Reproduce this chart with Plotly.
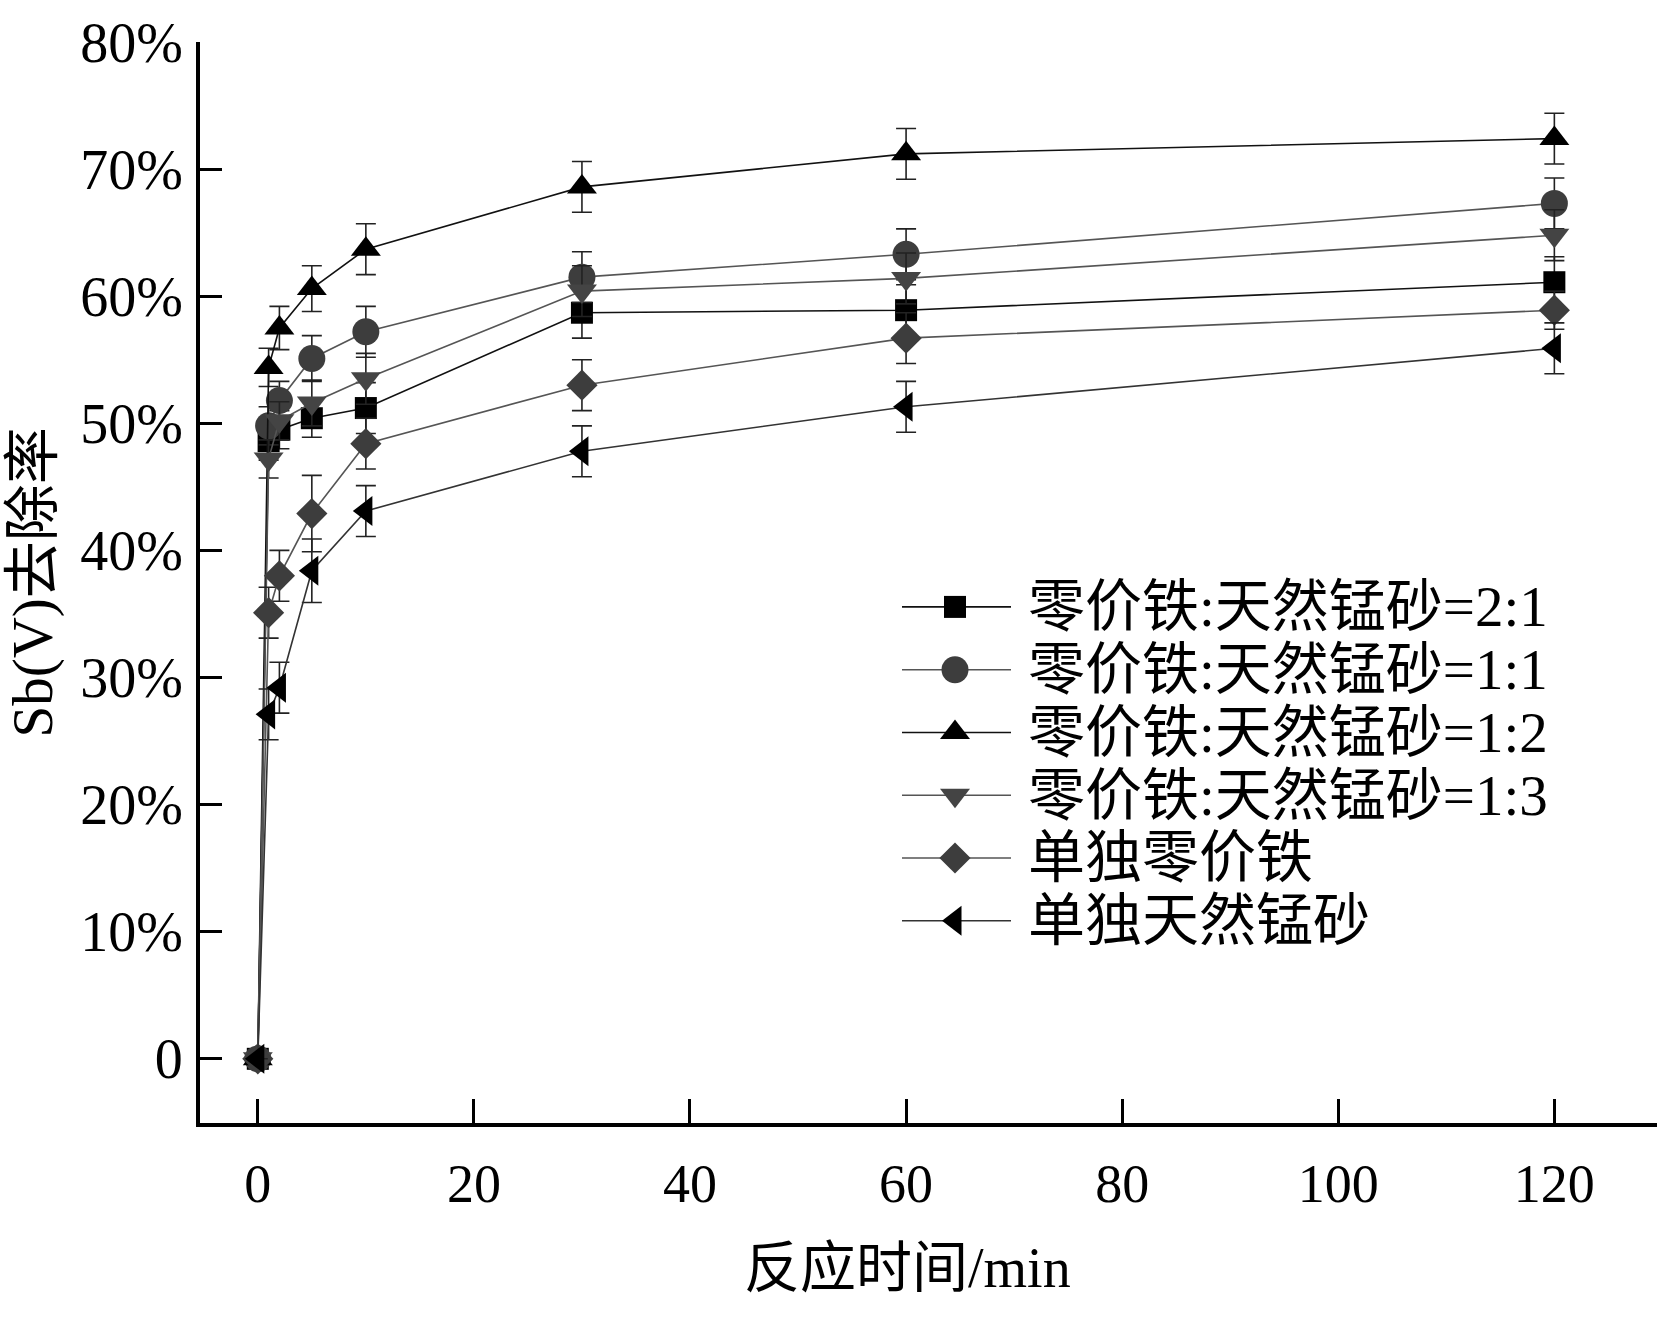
import plotly.graph_objects as go

# ---------------- data ----------------
times = [0, 1, 2, 5, 10, 30, 60, 120]

series_names = [
    "零价铁:天然锰砂=2:1",
    "零价铁:天然锰砂=1:1",
    "零价铁:天然锰砂=1:2",
    "零价铁:天然锰砂=1:3",
    "单独零价铁",
    "单独天然锰砂",
]

ratio_2_1 = [0, 48.6, 49.5, 50.4, 51.2, 58.7, 58.9, 61.1]
ratio_1_1 = [0, 49.8, 51.8, 55.1, 57.2, 61.5, 63.3, 67.3]
ratio_1_2 = [0, 54.4, 57.5, 60.6, 63.7, 68.6, 71.2, 72.4]
ratio_1_3 = [0, 47.2, 50.2, 51.6, 53.5, 60.4, 61.4, 64.8]
zvi_only = [0, 35.1, 38.0, 42.9, 48.4, 53.0, 56.7, 58.9]
mn_only = [0, 27.1, 29.2, 38.4, 43.1, 47.8, 51.3, 55.9]

err_2_1 = [0, 1.5, 1.5, 1.5, 2.0, 2.0, 2.0, 2.0]
err_1_1 = [0, 1.5, 1.5, 1.8, 2.0, 2.0, 2.0, 2.0]
err_1_2 = [0, 1.5, 1.7, 1.8, 2.0, 2.0, 2.0, 2.0]
err_1_3 = [0, 1.5, 1.5, 1.8, 2.0, 2.0, 2.0, 2.0]
err_zvi = [0, 2.0, 2.0, 3.0, 2.0, 2.0, 2.0, 1.5]
err_mn = [0, 2.0, 2.0, 2.5, 2.0, 2.0, 2.0, 2.0]

y_tickvals = [0, 10, 20, 30, 40, 50, 60, 70, 80]
y_ticktext = ["0", "10%", "20%", "30%", "40%", "50%", "60%", "70%", "80%"]
x_tickvals = [0, 20, 40, 60, 80, 100, 120]

x_title = "反应时间/min"
y_title = "Sb(V)去除率"

# ---------------- styles ----------------
values = [ratio_2_1, ratio_1_1, ratio_1_2, ratio_1_3, zvi_only, mn_only]
errors = [err_2_1, err_1_1, err_1_2, err_1_3, err_zvi, err_mn]
symbols = ["square", "circle", "triangle-up", "triangle-down", "diamond", "triangle-left"]
sizes = [22, 27, 26, 26, 24, 26]
marker_colors = ["#000000", "#3d3d3d", "#000000", "#444444", "#3d3d3d", "#000000"]
line_colors = ["#111111", "#555555", "#111111", "#555555", "#555555", "#333333"]

SERIF = "Liberation Serif, 'Times New Roman', 'Noto Sans CJK SC', serif"

# plot area in page pixels
L, R, T, B = 200, 1657, 38, 1123
W, H = 1678, 1322

fig = go.Figure()

for name, ys, es, sym, sz, mc, lc in zip(series_names, values, errors, symbols,
                                        sizes, marker_colors, line_colors):
    fig.add_trace(go.Scatter(
        x=times, y=ys, name=name, mode="lines+markers",
        line=dict(color=lc, width=1.6),
        marker=dict(symbol=sym, size=sz, color=mc, line=dict(width=0)),
        error_y=dict(type="data", array=es, visible=True,
                     color="#222222", thickness=1.6, width=10),
        showlegend=False,
    ))

# ---------------- custom legend (overlay axes in page pixels) ----------------
leg_line_x0, leg_line_x1, leg_marker_x = 902, 1011, 955
leg_text_x = 1026
leg_row0_y, leg_row_dy = 605, 63

for i, (name, sym, sz, mc, lc) in enumerate(zip(series_names, symbols, sizes,
                                                marker_colors, line_colors)):
    yy = leg_row0_y + i * leg_row_dy
    fig.add_trace(go.Scatter(
        x=[leg_line_x0, leg_line_x1], y=[yy, yy], mode="lines",
        line=dict(color=lc, width=1.6), xaxis="x2", yaxis="y2",
        showlegend=False, hoverinfo="skip",
    ))
    fig.add_trace(go.Scatter(
        x=[leg_marker_x], y=[yy], mode="markers",
        marker=dict(symbol=sym, size=sz, color=mc, line=dict(width=0)),
        xaxis="x2", yaxis="y2", showlegend=False, hoverinfo="skip",
    ))
    fig.add_annotation(
        x=leg_text_x, y=yy, xref="x2", yref="y2", text=name, showarrow=False,
        xanchor="left", yanchor="middle",
        font=dict(family=SERIF, size=57, color="#000000"),
    )

# axis titles (paper-referenced so they can sit outside the plot area)
fig.add_annotation(
    x=(907 - L) / (R - L), y=0, xref="paper", yref="paper", text=x_title,
    showarrow=False, xanchor="center", yanchor="middle", yshift=-(1268 - B),
    font=dict(family=SERIF, size=56, color="#000000"),
)
fig.add_annotation(
    x=0.0, y=0.5, xref="paper", yref="paper", text=y_title, showarrow=False,
    xanchor="center", yanchor="middle", textangle=-90, xshift=-(L - 32),
    font=dict(family=SERIF, size=57, color="#000000"),
)

fig.update_layout(
    width=W, height=H,
    margin=dict(l=L, r=W - R, t=T, b=H - B),
    paper_bgcolor="white", plot_bgcolor="white",
    showlegend=False,
    xaxis=dict(
        range=[-5.35, 129.5], tickvals=x_tickvals,
        ticks="inside", ticklen=24, tickwidth=3, tickcolor="black",
        showline=True, linewidth=4, linecolor="black", mirror=False,
        showgrid=False, zeroline=False,
        tickfont=dict(family=SERIF, size=54, color="black"),
        ticklabelstandoff=10,
    ),
    yaxis=dict(
        range=[-5.05, 80], tickvals=y_tickvals, ticktext=y_ticktext,
        ticks="inside", ticklen=22, tickwidth=3, tickcolor="black",
        showline=True, linewidth=4, linecolor="black", mirror=False,
        showgrid=False, zeroline=False,
        tickfont=dict(family=SERIF, size=56, color="black"),
        ticklabelstandoff=2,
    ),
    xaxis2=dict(range=[L, R], overlaying="x", visible=False, showgrid=False,
                zeroline=False),
    yaxis2=dict(range=[B, T], overlaying="y", visible=False, showgrid=False,
                zeroline=False),
)

fig.write_html("out.html")
